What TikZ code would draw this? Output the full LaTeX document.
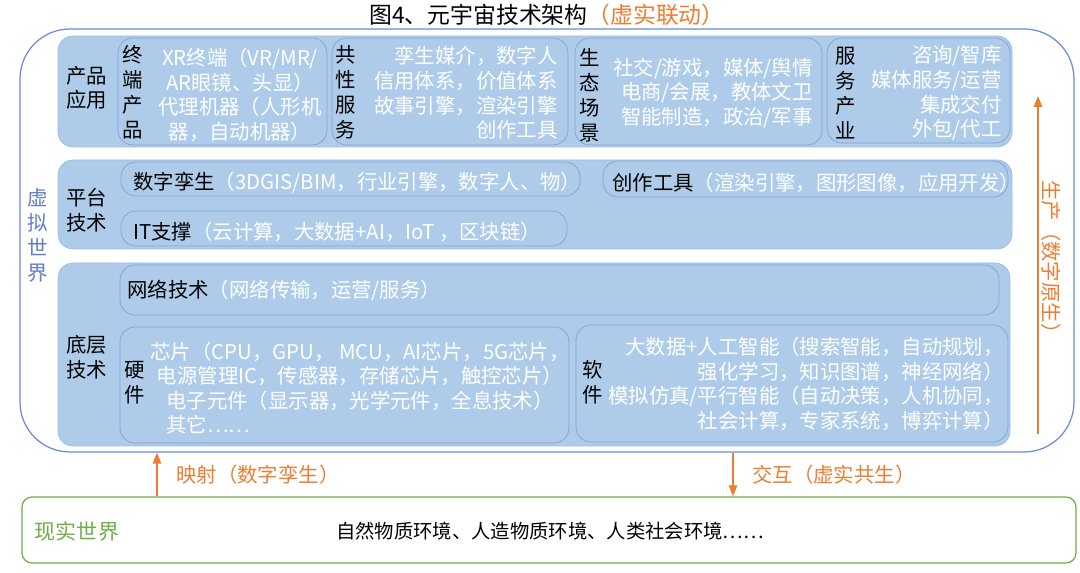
\documentclass[tikz,border=0pt]{standalone}
\usepackage{fontspec}
\setmainfont{Noto Sans CJK SC}
\usetikzlibrary{fit,arrows.meta}

\definecolor{layerfill}{HTML}{AECCEA}
\definecolor{layerline}{HTML}{9BBDE5}
\definecolor{subline}{HTML}{7BA4DA}
\definecolor{outerline}{HTML}{6A8BD6}
\definecolor{arrorange}{HTML}{ED7D31}
\definecolor{realgreen}{HTML}{70AD47}

\tikzset{
  txt/.style={font=\fontsize{11.6pt}{14pt}\selectfont, inner sep=0pt},
  wtxt/.style={txt, text=white},
  vtxt/.style={inner sep=0pt, align=center, font=\fontsize{11.6pt}{14.2pt}\selectfont},
  layer/.style={fit={#1}, inner sep=0pt, fill=layerfill, draw=layerline, rounded corners=0.3cm},
  subbox/.style={fit={#1}, inner sep=0pt, draw=subline, rounded corners=0.3cm},
  arr/.style={draw=arrorange, line width=0.8pt, -{Triangle[length=2.2mm,width=1.7mm]}}
}

\begin{document}
\begin{tikzpicture}[x=0.02cm,y=-0.02cm]
\useasboundingbox (0,0) rectangle (1080,573);

% title
\node[inner sep=0pt, font=\fontsize{13pt}{15pt}\selectfont] (title) at (547,15) {图4、元宇宙技术架构\textcolor{arrorange}{（虚实联动）}};

% virtual world
\node[fit={(20,29) (1074,452)}, inner sep=0pt, draw=outerline, line width=0.7pt, rounded corners=1cm] (vw) {};
\node[vtxt, text=outerline!90!black] (vwl) at (38,235) {虚\\拟\\世\\界};

% layer 1: product applications
\node[layer={(58,36) (1012,147)}] (L1) {};
\node[subbox={(118,38) (327,145)}] (s11) {};
\node[subbox={(332,38) (568,145)}] (s12) {};
\node[subbox={(575,38) (822,145)}] (s13) {};
\node[subbox={(827,38) (1010,143)}] (s14) {};
\node[txt, align=center] (l1) at (87,88) {产品\\应用};
\node[vtxt] (v11) at (133,92) {终\\端\\产\\品};
\node[wtxt, align=center] (t11) at (240,95) {XR终端（VR/MR/\\AR眼镜、头显）\\代理机器（人形机\\器，自动机器）};
\node[vtxt] (v12) at (346,92) {共\\性\\服\\务};
\node[wtxt, align=right, anchor=east] (t12) at (558,93) {孪生媒介，数字人\\信用体系，价值体系\\故事引擎，渲染引擎\\创作工具};
\node[vtxt] (v13) at (590,95) {生\\态\\场\\景};
\node[wtxt, align=right, anchor=east] (t13) at (813,93) {社交/游戏，媒体/舆情\\电商/会展，教体文卫\\智能制造，政治/军事};
\node[vtxt] (v14) at (846,93) {服\\务\\产\\业};
\node[wtxt, align=right, anchor=east] (t14) at (1002,93) {咨询/智库\\媒体服务/运营\\集成交付\\外包/代工};

% layer 2: platform
\node[layer={(58,160) (1012,249)}] (L2) {};
\node[subbox={(121,162) (580,196)}] (s21) {};
\node[subbox={(603,161) (1008,197)}] (s22) {};
\node[subbox={(121,211) (567,246)}] (s23) {};
\node[txt, align=center] (l2) at (87,210) {平台\\技术};
\node[txt, anchor=west] (t21) at (133,183) {数字孪生\textcolor{white}{（3DGIS/BIM，行业引擎，数字人、物）}};
\node[txt, anchor=west] (t22) at (612,183) {创作工具\textcolor{white}{（渲染引擎，图形图像，应用开发）}};
\node[txt, anchor=west] (t23) at (133,232) {IT支撑\textcolor{white}{（云计算，大数据+AI，IoT ，区块链）}};

% layer 3: foundation
\node[layer={(58,263) (1010,446)}] (L3) {};
\node[subbox={(120,265) (999,315)}] (s31) {};
\node[subbox={(120,327) (569,443)}] (s32) {};
\node[subbox={(576,325) (1008,442)}] (s33) {};
\node[txt, align=center] (l3) at (87,357) {底层\\技术};
\node[txt, anchor=west] (t31) at (127,291) {网络技术\textcolor{white}{（网络传输，运营/服务）}};
\node[vtxt] (v32) at (135,383) {硬\\件};
\node[wtxt, align=center] (t32) at (360,388) {芯片（CPU，GPU， MCU，AI芯片，5G芯片，\\电源管理IC，传感器，存储芯片，触控芯片）\\电子元件（显示器，光学元件，全息技术）\\\makebox[19em][l]{其它……}};
\node[vtxt] (v33) at (593,382) {软\\件};
\node[wtxt, align=right, anchor=east] (t33) at (1004,384) {大数据+人工智能（搜索智能，自动规划，\\强化学习，知识图谱，神经网络）\\模拟仿真/平行智能（自动决策，人机协同，\\社会计算，专家系统，博弈计算）};

% production arrow
\coordinate (p0) at (1038,434);
\coordinate (p1) at (1038,96);
\draw[arr] (p0) -- (p1);
\node[txt, text=arrorange, rotate=-90] (pl) at (1051,262) {生产（数字原生）};

% real world
\node[fit={(22,497) (1076,563)}, inner sep=0pt, draw=realgreen, line width=0.7pt, rounded corners=0.2cm] (rw) {};
\node[txt, text=realgreen, font=\fontsize{12pt}{14pt}\selectfont] (rwl) at (77,531) {现实世界};
\node[txt, font=\fontsize{11pt}{14pt}\selectfont] (rwt) at (550,531) {自然物质环境、人造物质环境、人类社会环境……};

% mapping and interaction
\coordinate (m1) at (157,0);
\coordinate (m2) at (733,0);
\draw[arr] (rw.north -| m1) -- (vw.south -| m1);
\draw[arr] (vw.south -| m2) -- (rw.north -| m2);
\node[txt, text=arrorange, anchor=west] (ml) at (176,475) {映射（数字孪生）};
\node[txt, text=arrorange, anchor=west] (il) at (752,475) {交互（虚实共生）};
\end{tikzpicture}
\end{document}
